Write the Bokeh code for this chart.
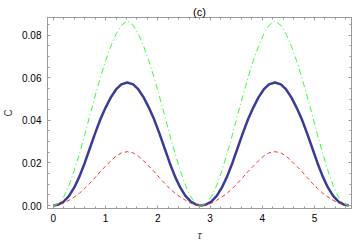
from bokeh.plotting import figure
from bokeh.models import LinearAxis, Range1d, FixedTicker, NumeralTickFormatter
from bokeh.embed import file_html
from bokeh.resources import INLINE

tau = [0, 0.1, 0.2, 0.3, 0.4, 0.5, 0.6, 0.7, 0.8, 0.9, 1.0, 1.1, 1.2, 1.3, 1.414,
       1.528, 1.628, 1.728, 1.828, 1.928, 2.028, 2.128, 2.228, 2.328, 2.428, 2.528, 2.628, 2.728, 2.828,
       2.928, 3.028, 3.128, 3.228, 3.328, 3.428, 3.528, 3.628, 3.728, 3.828, 3.928, 4.028, 4.128, 4.243,
       4.357, 4.457, 4.557, 4.657, 4.757, 4.857, 4.957, 5.057, 5.157, 5.257, 5.357, 5.457, 5.557, 5.657]

c_blue = [0, 0.0005, 0.0019, 0.0045, 0.0085, 0.0137, 0.0200, 0.0270, 0.0340, 0.0405, 0.0460, 0.0508, 0.0545, 0.0569, 0.0578,
          0.0569, 0.0545, 0.0508, 0.0460, 0.0405, 0.0340, 0.0270, 0.0200, 0.0137, 0.0085, 0.0045, 0.0019, 0.0005, 0,
          0.0005, 0.0019, 0.0045, 0.0085, 0.0137, 0.0200, 0.0270, 0.0340, 0.0405, 0.0460, 0.0508, 0.0545, 0.0569, 0.0578,
          0.0569, 0.0545, 0.0508, 0.0460, 0.0405, 0.0340, 0.0270, 0.0200, 0.0137, 0.0085, 0.0045, 0.0019, 0.0005, 0]

c_green = [0, 0.0010, 0.0042, 0.0095, 0.0165, 0.0245, 0.0332, 0.0425, 0.0515, 0.0602, 0.0680, 0.0748, 0.0805, 0.0846, 0.0867,
           0.0846, 0.0805, 0.0748, 0.0680, 0.0602, 0.0515, 0.0425, 0.0332, 0.0245, 0.0165, 0.0095, 0.0042, 0.0010, 0,
           0.0010, 0.0042, 0.0095, 0.0165, 0.0245, 0.0332, 0.0425, 0.0515, 0.0602, 0.0680, 0.0748, 0.0805, 0.0846, 0.0867,
           0.0846, 0.0805, 0.0748, 0.0680, 0.0602, 0.0515, 0.0425, 0.0332, 0.0245, 0.0165, 0.0095, 0.0042, 0.0010, 0]

c_red = [0, 0.0003, 0.0011, 0.0025, 0.0040, 0.0058, 0.0080, 0.0105, 0.0132, 0.0160, 0.0185, 0.0210, 0.0232, 0.0247, 0.0253,
         0.0247, 0.0232, 0.0210, 0.0185, 0.0160, 0.0132, 0.0105, 0.0080, 0.0058, 0.0040, 0.0025, 0.0011, 0.0003, 0,
         0.0003, 0.0011, 0.0025, 0.0040, 0.0058, 0.0080, 0.0105, 0.0132, 0.0160, 0.0185, 0.0210, 0.0232, 0.0247, 0.0253,
         0.0247, 0.0232, 0.0210, 0.0185, 0.0160, 0.0132, 0.0105, 0.0080, 0.0058, 0.0040, 0.0025, 0.0011, 0.0003, 0]

x_ticks = [0, 1, 2, 3, 4, 5]
x_minor = [v / 5 for v in range(-1, 29)]
y_ticks = [0.0, 0.02, 0.04, 0.06, 0.08]
y_minor = [v * 0.005 for v in range(0, 18)]

FONT = "Liberation Sans"
GRAY = "#9a9a9a"

p = figure(width=354, height=243, output_backend="svg", toolbar_location=None,
           x_range=Range1d(-0.113, 5.709), y_range=Range1d(-0.0014, 0.0883),
           min_border_left=43, min_border_right=3, min_border_top=17, min_border_bottom=35)
p.background_fill_color = "white"
p.border_fill_color = "white"
p.outline_line_color = GRAY
p.xgrid.visible = False
p.ygrid.visible = False

p.title.text = "(c)"
p.title.align = "center"
p.title.text_font = FONT
p.title.text_font_style = "normal"
p.title.text_font_size = "11px"
p.title.text_color = "black"
p.title.standoff = 0
p.title.offset = 0


def style_axis(ax, ticks, minor, show_labels):
    ax.ticker = FixedTicker(ticks=ticks, minor_ticks=minor)
    ax.axis_line_color = GRAY
    ax.major_tick_line_color = GRAY
    ax.minor_tick_line_color = GRAY
    ax.major_tick_in = 3
    ax.major_tick_out = 0
    ax.minor_tick_in = 2
    ax.minor_tick_out = 0
    ax.major_label_text_font = FONT
    ax.major_label_text_color = "black"
    if show_labels:
        ax.major_label_text_font_size = "10px"
        ax.major_label_standoff = 5
    else:
        ax.major_label_text_font_size = "0px"
        ax.major_label_standoff = 0
        ax.major_label_text_color = None


style_axis(p.xaxis[0], x_ticks, x_minor, True)
style_axis(p.yaxis[0], y_ticks, y_minor, True)
p.xaxis[0].major_label_standoff = 5
p.yaxis[0].major_label_standoff = 6
p.yaxis[0].formatter = NumeralTickFormatter(format="0.00")
p.xaxis[0].axis_label = "τ"
p.xaxis[0].axis_label_text_font = FONT
p.xaxis[0].axis_label_text_font_style = "italic"
p.xaxis[0].axis_label_text_font_size = "11px"
p.xaxis[0].axis_label_standoff = 4
p.yaxis[0].axis_label = "C"
p.yaxis[0].axis_label_text_font = FONT
p.yaxis[0].axis_label_text_font_style = "normal"
p.yaxis[0].axis_label_text_font_size = "10px"
p.yaxis[0].axis_label_standoff = 5

top_ax = LinearAxis()
style_axis(top_ax, x_ticks, x_minor, False)
p.add_layout(top_ax, "above")
right_ax = LinearAxis()
style_axis(right_ax, y_ticks, y_minor, False)
p.add_layout(right_ax, "right")

p.line(tau, c_blue, line_color="#3b3b98", line_width=2.5)
p.line(tau, c_red, line_color="#ff3030", line_width=1, line_dash="4 3")
p.line(tau, c_green, line_color="#33ff33", line_width=1, line_dash="6 3 1 3")

open("out.html", "w").write(file_html(p, INLINE))
